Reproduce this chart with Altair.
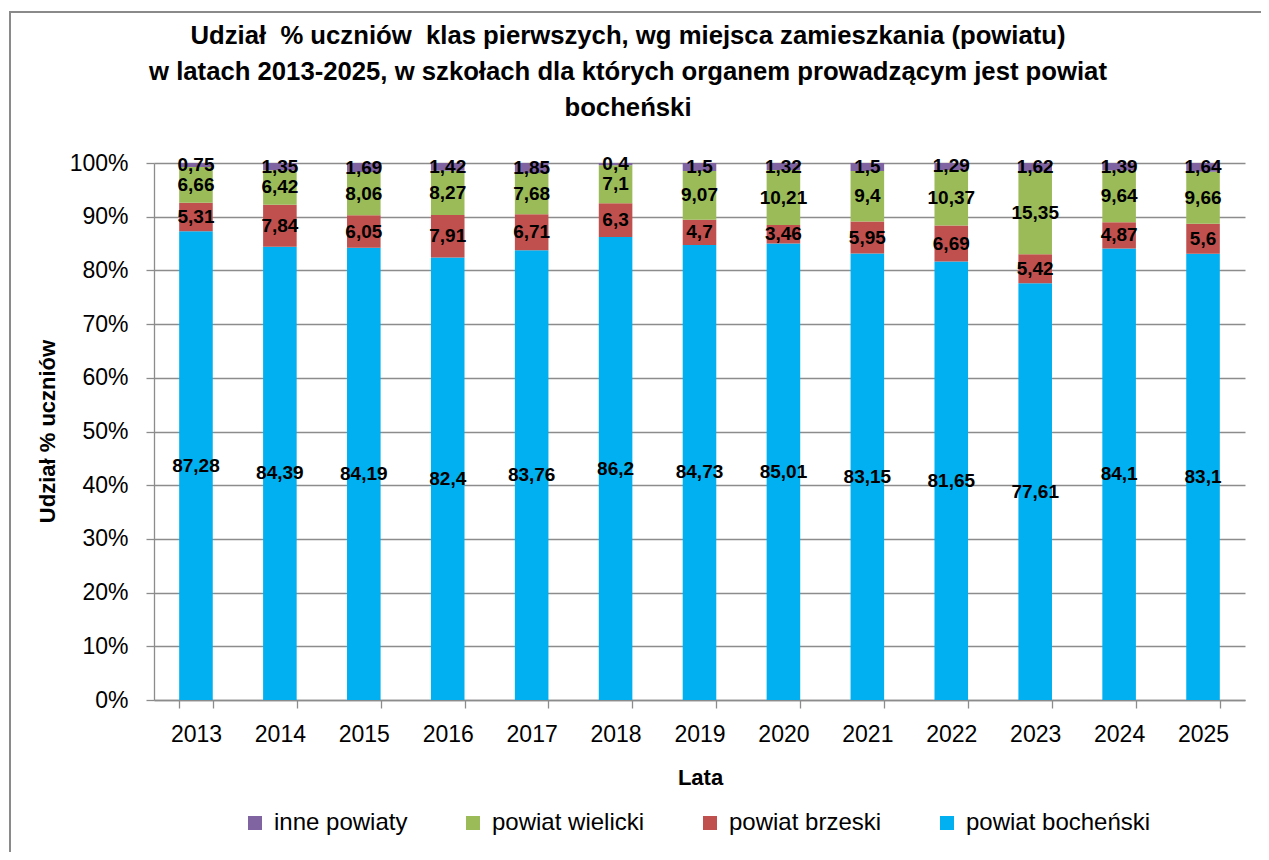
import altair as alt
import pandas as pd

years = ["2013", "2014", "2015", "2016", "2017", "2018", "2019",
         "2020", "2021", "2022", "2023", "2024", "2025"]
bochenski = [87.28, 84.39, 84.19, 82.4, 83.76, 86.2, 84.73, 85.01, 83.15, 81.65, 77.61, 84.1, 83.1]
brzeski = [5.31, 7.84, 6.05, 7.91, 6.71, 6.3, 4.7, 3.46, 5.95, 6.69, 5.42, 4.87, 5.6]
wielicki = [6.66, 6.42, 8.06, 8.27, 7.68, 7.1, 9.07, 10.21, 9.4, 10.37, 15.35, 9.64, 9.66]
inne = [0.75, 1.35, 1.69, 1.42, 1.85, 0.4, 1.5, 1.32, 1.5, 1.29, 1.62, 1.39, 1.64]

series_names = ["powiat bocheński", "powiat brzeski", "powiat wielicki", "inne powiaty"]
series_values = [bochenski, brzeski, wielicki, inne]
legend_order = ["inne powiaty", "powiat wielicki", "powiat brzeski", "powiat bocheński"]
legend_colors = ["#8064A2", "#9BBB59", "#C0504D", "#00B0F0"]

title_lines = [
    "Udział \u00a0% uczniów \u00a0klas pierwszych, wg miejsca zamieszkania (powiatu)",
    "w latach 2013-2025, w szkołach dla których organem prowadzącym jest powiat",
    "bocheński",
]

rows = []
for k, (name, vals) in enumerate(zip(series_names, series_values)):
    for y, v in zip(years, vals):
        rows.append({"year": y, "series": name, "value": v, "order": k,
                     "label": ("%g" % v).replace(".", ",")})
df = pd.DataFrame(rows)

FONT = "Liberation Sans"
GREY = "#8c8c8c"
W, H = 1091, 537

x_axis = alt.Axis(title="Lata", tickBand="extent", labelAngle=0, labelFont=FONT,
                  labelFontSize=23, labelColor="#000000", labelPadding=15,
                  tickSize=8, tickColor=GREY, domainColor=GREY, tickWidth=1.3,
                  domainWidth=1.3, grid=False, titleFont=FONT, titleFontSize=22,
                  titleFontWeight="bold", titleColor="#000000", titleX=546,
                  titleY=77, titleBaseline="middle", titleAlign="center")
y_axis = alt.Axis(title="Udział % uczniów", format="%",
                  values=[0, 0.1, 0.2, 0.3, 0.4, 0.5, 0.6, 0.7, 0.8, 0.9, 1.0],
                  labelFont=FONT, labelFontSize=23, labelColor="#000000",
                  labelPadding=18, tickSize=8, tickColor=GREY, tickWidth=1.3,
                  domainColor=GREY, domainWidth=1.3, grid=True, gridColor=GREY,
                  gridWidth=1.3, titleFont=FONT, titleFontSize=22,
                  titleFontWeight="bold", titleColor="#000000", titleX=-107,
                  titleY=268, titleBaseline="middle", titleAlign="center")

x_enc = alt.X("year:N", axis=x_axis, sort=years,
              scale=alt.Scale(paddingInner=0.6, paddingOuter=0.3))
y_scale = alt.Scale(domain=[0, 1], nice=False)

base = alt.Chart(df).transform_stack(
    stack="value", groupby=["year"], as_=["y0", "y1"], offset="normalize",
    sort=[alt.SortField("order", order="ascending")]
).transform_calculate(ymid="(datum.y0 + datum.y1) / 2")

bars = base.mark_bar().encode(
    x=x_enc,
    y=alt.Y("y0:Q", scale=y_scale, axis=y_axis),
    y2="y1:Q",
    color=alt.Color("series:N",
                    scale=alt.Scale(domain=legend_order, range=legend_colors),
                    legend=alt.Legend(orient="none", legendX=89, legendY=648,
                                      direction="horizontal", title=None,
                                      symbolType="square", symbolSize=196,
                                      symbolStrokeWidth=0, labelFont=FONT,
                                      labelFontSize=24, labelColor="#000000",
                                      labelOffset=7, columnPadding=53,
                                      labelLimit=0)),
)

labels = base.mark_text(font=FONT, fontSize=19, fontWeight="bold",
                        color="#000000", baseline="middle").encode(
    x=x_enc,
    y=alt.Y("ymid:Q", scale=y_scale, axis=y_axis),
    text="label:N",
)

single = pd.DataFrame({"k": [0]})
border = alt.Chart(single).mark_rect(fillOpacity=0, stroke="#8a8a8a",
                                     strokeWidth=2).encode(
    x=alt.value(-144), x2=alt.value(1150), y=alt.value(-151), y2=alt.value(720))

title = alt.Chart(single).mark_text(font=FONT, fontSize=25.7, fontWeight="bold",
                                    color="#000000", align="center",
                                    baseline="alphabetic", lineHeight=36).encode(
    x=alt.value(474), y=alt.value(-119.5), text=alt.value(title_lines))

chart = alt.layer(border, bars, labels, title).properties(
    width=W, height=H,
    autosize=alt.AutoSizeParams(type="none"),
    padding={"left": 146, "top": 155, "right": 16, "bottom": 152},
    background="#ffffff",
).configure_view(stroke=None)

chart.save("out.html", embed_options={"renderer": "svg", "actions": False})
